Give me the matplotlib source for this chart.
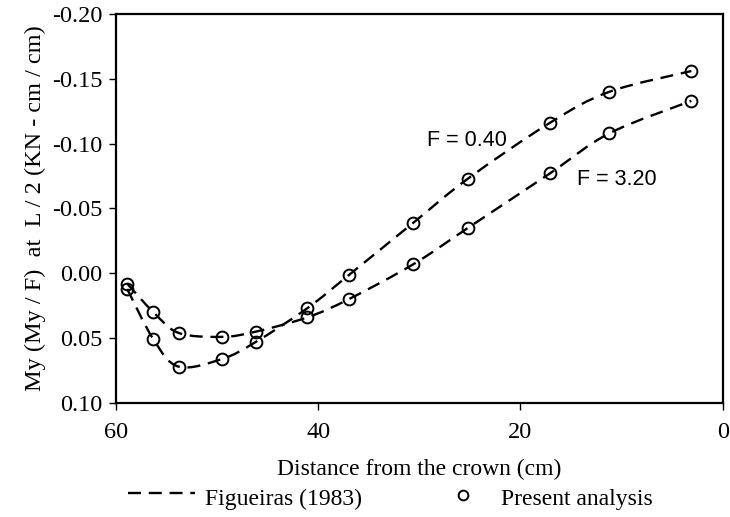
import matplotlib
matplotlib.use("Agg")
import matplotlib.pyplot as plt
from matplotlib.lines import Line2D
from matplotlib.path import Path
from matplotlib.patches import PathPatch

# distance from the crown (cm), shared by both load factors
distance = [58.9, 56.3, 53.8, 49.5, 46.2, 41.1, 37.0, 30.6, 25.2, 17.1, 11.2, 3.1]
# My/F at L/2 (KN-cm/cm)
my_f040 = [0.012, 0.051, 0.072, 0.066, 0.053, 0.027, 0.0015, -0.039, -0.073, -0.116, -0.140, -0.156]
my_f320 = [0.008, 0.030, 0.046, 0.049, 0.045, 0.034, 0.020, -0.007, -0.035, -0.077, -0.108, -0.133]

xticks = [60, 40, 20, 0]
yticks = [0.10, 0.05, 0.00, -0.05, -0.10, -0.15, -0.20]

SERIF = "Liberation Serif"
SANS = "Liberation Sans"


def smooth_path(xs, ys):
    """Catmull-Rom through the points as cubic Beziers (like a smoothed line)."""
    pts = list(zip(xs, ys))
    n = len(pts)
    verts = [pts[0]]
    codes = [Path.MOVETO]
    for i in range(n - 1):
        p0 = pts[i - 1] if i > 0 else pts[i]
        p1 = pts[i]
        p2 = pts[i + 1]
        p3 = pts[i + 2] if i + 2 < n else pts[i + 1]
        c1 = (p1[0] + (p2[0] - p0[0]) / 6.0, p1[1] + (p2[1] - p0[1]) / 6.0)
        c2 = (p2[0] - (p3[0] - p1[0]) / 6.0, p2[1] - (p3[1] - p1[1]) / 6.0)
        verts += [c1, c2, p2]
        codes += [Path.CURVE4] * 3
    return Path(verts, codes)


fig = plt.figure(figsize=(7.3, 5.17), dpi=100)
ax = fig.add_axes([0.159, 0.2205, 0.831, 0.7525])

dash = (5.5, 3.3)
for ys in (my_f040, my_f320):
    patch = PathPatch(smooth_path(distance, ys), facecolor="none", edgecolor="black",
                      linewidth=1.7, linestyle=(0, dash), zorder=2)
    ax.add_patch(patch)
    ax.plot(distance, ys, linestyle="none", marker="o", markersize=8.5,
            markerfacecolor="none", markeredgecolor="black", markeredgewidth=1.4, zorder=3)

ax.set_xlim(60, 0)
ax.set_ylim(0.10, -0.20)
ax.set_xticks(xticks)
ax.set_xticklabels([f"{v}" for v in xticks])
ax.set_yticks(yticks)
ax.set_yticklabels([f"{v:.2f}".replace("-0.00", "0.00") for v in yticks])

for sp in ax.spines.values():
    sp.set_linewidth(1.6)
ax.tick_params(direction="out", length=5, width=1.0, labelsize=17.5)
ax.tick_params(axis="x", pad=9)
ax.tick_params(axis="y", pad=5)
for lab in ax.get_xticklabels() + ax.get_yticklabels():
    lab.set_family(SERIF)

ax.set_xlabel("Distance from the crown (cm)", family=SERIF, fontsize=17, labelpad=11)
ax.set_ylabel("My (My / F)  at  L / 2 (KN - cm / cm)", family=SERIF, fontsize=17.5, labelpad=4)

ax.text(29.2, -0.1025, "F = 0.40", family=SANS, fontsize=15.5, ha="left", va="center")
ax.text(14.4, -0.0725, "F = 3.20", family=SANS, fontsize=15.5, ha="left", va="center")

# legend row under the x label
base_y = 1 - 505 / 517
line_y = 1 - 493 / 517
mark_y = 1 - 495 / 517
fig.add_artist(Line2D([0.175, 0.267], [line_y, line_y], transform=fig.transFigure,
                      color="black", linewidth=1.7, linestyle=(0, dash)))
fig.text(0.281, base_y, "Figueiras (1983)", family=SERIF, fontsize=17, va="baseline")
fig.add_artist(Line2D([0.634], [mark_y], transform=fig.transFigure, linestyle="none",
                      marker="o", markersize=7, markerfacecolor="none",
                      markeredgecolor="black", markeredgewidth=1.4))
fig.text(0.686, base_y, "Present analysis", family=SERIF, fontsize=17, va="baseline")

fig.savefig("out.png", dpi=100)
